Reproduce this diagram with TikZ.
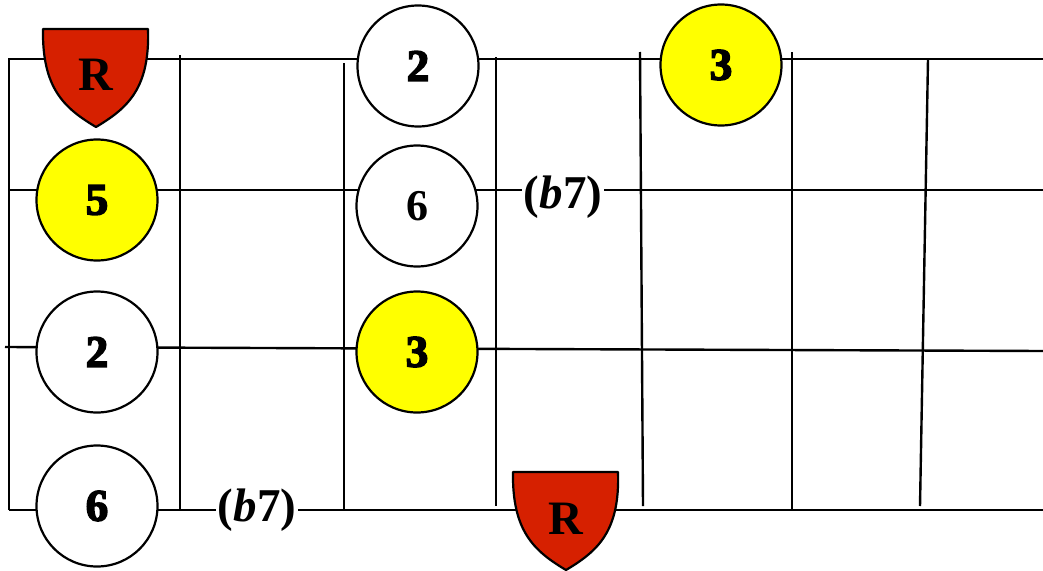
\documentclass[tikz,border=0pt]{standalone}
\usepackage{fontspec}
\setmainfont{Liberation Serif}
\newfontfamily\heavyfont{Liberation Serif Bold}[FakeBold=3.5]
\definecolor{rootred}{RGB}{214,32,0}
\definecolor{noteyellow}{RGB}{255,255,0}
\begin{document}
\begin{tikzpicture}[x=1pt,y=-1pt,
  wire/.style={line width=2.4pt,line cap=butt},
  note/.style={circle,draw,line width=2.2pt,minimum size=121pt,inner sep=0pt,font=\fontsize{45}{45}\selectfont\heavyfont},
  plainnote/.style={note,font=\fontsize{44}{44}\selectfont\bfseries},
  yel/.style={fill=noteyellow},
  wht/.style={fill=white},
  lbl/.style={fill=white,inner sep=2pt,font=\fontsize{47}{47}\selectfont\bfseries},
  rtext/.style={font=\fontsize{48}{48}\selectfont\bfseries,inner sep=0pt},
  shield/.style={line width=2.2pt,fill=rootred,line join=round}
]
\useasboundingbox (0,0) rectangle (1043,570);
% strings
\draw[wire] (9,510) -- (9,59) -- (1043,59);
\draw[wire] (9,190) -- (1043,190);
\draw[wire] (5,347) -- (1043,351);
\draw[wire] (9,510) -- (1043,510);
% frets
\draw[wire] (180,55) -- (180,510);
\draw[wire] (344,63) -- (344,510);
\draw[wire] (496,57) -- (496,506);
\draw[wire] (640,52) -- (643,506);
\draw[wire] (792,52) -- (792,510);
\draw[wire] (928,59) -- (920,506);
% notes
\node[note,wht] (ntwo) at (418,66) {2};
\node[note,yel] (nthreetop) at (721,65) {3};
\node[note,yel] (nfive) at (97,200) {5};
\node[plainnote,wht] (nsix) at (417,206) {6};
\node[note,wht] (ntwoleft) at (97,352) {2};
\node[note,yel] (nthreemid) at (417,352) {3};
\node[note,wht] (nsixbot) at (97,506) {6};
% labels
\node[lbl] (bseventop) at (563,197) {(\textit{b}7)};
\node[lbl] (bsevenbot) at (257,510) {(\textit{b}7)};
% root shields
\draw[shield] (43,29) -- (148,29) .. controls (150,88) and (128,108) .. (96,127) .. controls (64,108) and (42,88) .. (43,29) -- cycle;
\node[rtext] (rtop) at (96,75) {R};
\draw[shield] (513,472) -- (618,472) .. controls (620,531) and (598,551) .. (566,570) .. controls (534,551) and (512,531) .. (513,472) -- cycle;
\node[rtext] (rbot) at (566,519) {R};
\end{tikzpicture}
\end{document}
